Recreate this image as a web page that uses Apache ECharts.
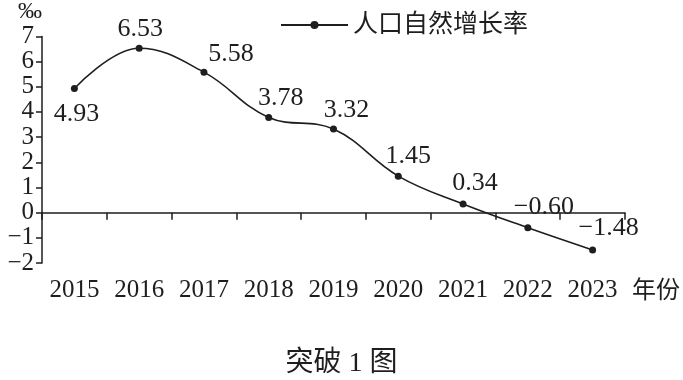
<!DOCTYPE html>
<html>
<head>
<meta charset="utf-8">
<script src="https://cdn.jsdelivr.net/npm/echarts@6/dist/echarts.min.js"></script>
<style>html,body{margin:0;padding:0;background:#fff;}#c{width:683px;height:380px;}</style>
</head>
<body>
<div id="c"></div>
<script>
var years = ['2015','2016','2017','2018','2019','2020','2021','2022','2023'];
var growthRate = [4.93, 6.53, 5.58, 3.78, 3.32, 1.45, 0.34, -0.60, -1.48];
var yTicks = [-2, 7, 1];
var seriesName = '人口自然增长率';
var xAxisName = '年份';
var yAxisName = '‰';

var labelStyles = [
  {position:'bottom', offset:[2,4]},
  {position:'top', offset:[1,2]},
  {position:'top', offset:[27,4]},
  {position:'top', offset:[12,2]},
  {position:'top', offset:[13,3]},
  {position:'top', offset:[10,2]},
  {position:'top', offset:[12,1]},
  {position:'top', offset:[16,1]},
  {position:'top', offset:[16,0]}
];
var serif = '"Liberation Serif", "Times New Roman", "Noto Sans CJK SC", serif';
var ink = '#1e1e1e';
function fmtMinus(s){ return String(s).replace('-', '\u2212'); }

var chart = echarts.init(document.getElementById('c'));
chart.setOption({
  animation: false,
  backgroundColor: '#fff',
  title: {
    text: '突破 1 图',
    left: 'center',
    top: 345,
    textStyle: {fontFamily: serif, fontSize: 28, fontWeight: 'normal', color: ink}
  },
  legend: {
    data: [seriesName],
    left: 275,
    top: 6,
    itemWidth: 67,
    itemHeight: 10,
    textStyle: {fontFamily: serif, fontSize: 25, color: ink, lineHeight: 28}
  },
  graphic: [{
    type: 'text',
    left: 632,
    top: 280,
    style: {text: xAxisName, font: '24px ' + serif, fill: ink}
  }],
  grid: {left: 42, right: 58, top: 33, bottom: 117},
  xAxis: {
    type: 'category',
    data: years,
    boundaryGap: true,
    axisLine: {lineStyle: {color: ink, width: 1.5}},
    axisTick: {show: true, length: 7, inside: false, alignWithLabel: false, lineStyle: {color: ink, width: 1.5}},
    axisLabel: {fontFamily: serif, fontSize: 25, color: ink, margin: 15, interval: 0}
  },
  yAxis: {
    type: 'value',
    min: yTicks[0],
    max: yTicks[1],
    interval: yTicks[2],
    name: yAxisName,
    nameLocation: 'end',
    nameGap: 8,
    nameTextStyle: {fontFamily: serif, fontSize: 24, color: ink, align: 'right'},
    splitLine: {show: false},
    axisLine: {show: true, lineStyle: {color: ink, width: 1.5}},
    axisTick: {show: true, length: 6, lineStyle: {color: ink, width: 1.5}},
    axisLabel: {fontFamily: serif, fontSize: 25, color: ink, margin: 8, formatter: function(v){ return fmtMinus(v); }}
  },
  series: [{
    name: seriesName,
    type: 'line',
    smooth: 0.4,
    symbol: 'circle',
    symbolSize: 7,
    itemStyle: {color: ink},
    lineStyle: {color: ink, width: 1.6},
    data: growthRate.map(function(v, i){
      return {value: v, label: labelStyles[i]};
    }),
    label: {
      show: true,
      fontFamily: serif,
      fontSize: 26,
      color: ink,
      distance: 5,
      formatter: function(p){ return fmtMinus(p.value.toFixed(2)); }
    }
  }]
});
</script>
</body>
</html>
